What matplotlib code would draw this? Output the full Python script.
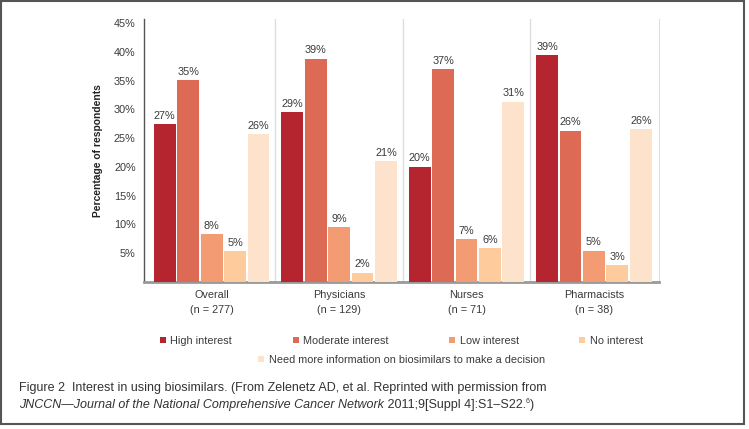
import matplotlib
matplotlib.use('Agg')
import matplotlib.pyplot as plt
from matplotlib.patches import Rectangle
import numpy as np

# dados
grupos = ['Overall\n(n = 277)', 'Physicians\n(n = 129)', 'Nurses\n(n = 71)', 'Pharmacists\n(n = 38)']
series = ['High interest', 'Moderate interest', 'Low interest', 'No interest',
          'Need more information on biosimilars to make a decision']
high = [27.4, 29.5, 20.0, 39.4]
moderate = [35.1, 38.8, 37.0, 26.3]
low = [8.3, 9.5, 7.4, 5.4]
nointerest = [5.3, 1.6, 5.9, 2.9]
needinfo = [25.7, 21.0, 31.3, 26.5]
rotulos = [['27%', '29%', '20%', '39%'],
           ['35%', '39%', '37%', '26%'],
           ['8%', '9%', '7%', '5%'],
           ['5%', '2%', '6%', '3%'],
           ['26%', '21%', '31%', '26%']]
cores = ['#b5252f', '#dc6a55', '#f39c73', '#fdcb9c', '#fde3cc']
yticks = [5, 10, 15, 20, 25, 30, 35, 40, 45]

plt.rcParams['font.family'] = ['Liberation Sans', 'DejaVu Sans']
fs = 7.8

fig = plt.figure(figsize=(7.49, 4.29), dpi=100)
ax = fig.add_axes([0.1923, 0.3427, 0.6875, 0.6130])

x = np.arange(len(grupos))
passo = 0.184
larg = 0.172
valores = [high, moderate, low, nointerest, needinfo]
barras = []
for i, vals in enumerate(valores):
    pos = x + (i - 2) * passo
    b = ax.bar(pos, vals, larg, color=cores[i], label=series[i], zorder=3)
    barras.append(b)
    for p, v, r in zip(pos, vals, rotulos[i]):
        ax.text(p, v + 0.6, r, ha='center', va='bottom', fontsize=fs, color='#3a3a3a')

# linhas separando os grupos
for s in [0.5, 1.5, 2.5]:
    ax.axvline(s, color='#dddddd', lw=1, zorder=1)

ax.set_xlim(-0.53, 3.51)
ax.set_ylim(0, 45.7)
ax.set_yticks(yticks)
ax.set_yticklabels([f'{t}%' for t in yticks], fontsize=fs, color='#3a3a3a')
ax.set_xticks(x)
ax.set_xticklabels(grupos, fontsize=fs, color='#3a3a3a', linespacing=1.55)
ax.tick_params(axis='both', length=0)
ax.tick_params(axis='y', pad=6)
ax.tick_params(axis='x', pad=6)
ax.spines['top'].set_visible(False)
ax.spines['right'].set_color('#dddddd')
ax.spines['left'].set_color('#555555')
ax.spines['left'].set_linewidth(1.0)
ax.spines['bottom'].set_color('#999999')
ax.spines['bottom'].set_linewidth(2.0)

fig.text(98 / 749, 0.649, 'Percentage of respondents', rotation=90, ha='center', va='center',
         fontsize=7.4, fontweight='bold', color='#222222')

fig.legend(handles=barras[:4], labels=series[:4], loc='center', ncol=4,
           bbox_to_anchor=(401.5 / 749, 1 - 341 / 429), frameon=False,
           fontsize=fs, handlelength=0.55, handleheight=0.55, handletextpad=0.4,
           columnspacing=5.6, labelcolor='#3a3a3a')
fig.legend(handles=barras[4:], labels=series[4:], loc='center',
           bbox_to_anchor=(401.5 / 749, 1 - 360 / 429), frameon=False,
           fontsize=fs, handlelength=0.55, handleheight=0.55, handletextpad=0.4,
           labelcolor='#3a3a3a')

# legenda da figura
cf = 9.0
fig.text(19 / 749, 1 - 388 / 429,
         'Figure 2  Interest in using biosimilars. (From Zelenetz AD, et al. Reprinted with permission from',
         fontsize=cf, color='#333333', va='center')
t1 = fig.text(19 / 749, 1 - 405 / 429,
              'JNCCN\u2014Journal of the National Comprehensive Cancer Network',
              fontsize=cf, color='#333333', va='center', style='italic')
t2 = ax.annotate(' 2011;9[Suppl 4]:S1\u2013S22.', xy=(1, 0), xycoords=t1, va='bottom',
                 fontsize=cf, color='#333333', annotation_clip=False)
ax.annotate('6', xy=(1, 0.5), xycoords=t2, va='bottom', fontsize=5,
            color='#333333', annotation_clip=False)
ax.annotate(')', xy=(1, 0), xycoords=t2, xytext=(3.0, 0), textcoords='offset points',
            va='bottom', fontsize=cf, color='#333333', annotation_clip=False)

# moldura
fig.patches.append(Rectangle((0.0013, 0.0117), 0.9917, 0.9863, transform=fig.transFigure,
                             fill=False, edgecolor='#555555', lw=1.5))

fig.savefig('out.png', dpi=100)
